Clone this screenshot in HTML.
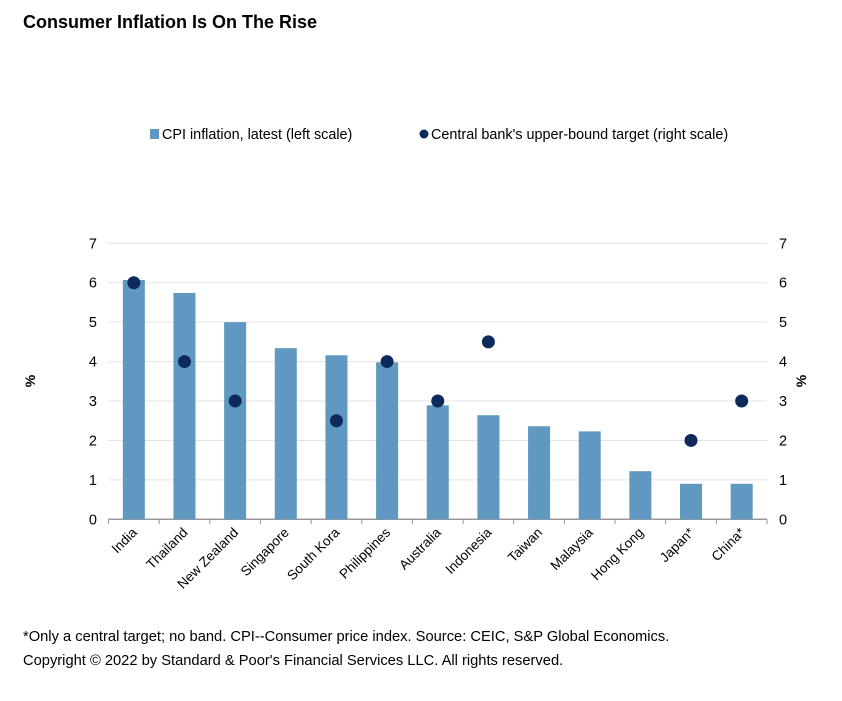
<!DOCTYPE html>
<html><head><meta charset="utf-8"><style>
body{margin:0;background:#fff;font-family:"Liberation Sans",Arial,sans-serif;}
svg text{font-family:"Liberation Sans",Arial,sans-serif;}
</style></head><body>
<svg id="c" width="842" height="696" viewBox="0 0 842 696">
<text x="23" y="28" font-size="18" font-weight="bold" fill="#000">Consumer Inflation Is On The Rise</text>
<g>
<rect x="150" y="129" width="9" height="10" fill="#5f98c0"/>
<text x="162" y="139" font-size="14.4" fill="#000">CPI inflation, latest (left scale)</text>
<circle cx="424" cy="134" r="4.5" fill="#0e2a5c"/>
<text x="431" y="139" font-size="14.4" fill="#000">Central bank's upper-bound target (right scale)</text>
</g>
<g id="plot"></g>
<text x="23" y="641" font-size="14.7" fill="#000">*Only a central target; no band. CPI--Consumer price index. Source: CEIC, S&amp;P Global Economics.</text>
<text x="23" y="665" font-size="14.7" fill="#000">Copyright © 2022 by Standard &amp; Poor's Financial Services LLC. All rights reserved.</text>
</svg>
<script>
const categories=["India","Thailand","New Zealand","Singapore","South Kora","Philippines","Australia","Indonesia","Taiwan","Malaysia","Hong Kong","Japan*","China*"];
const cpiValues=[6.07,5.74,5.0,4.34,4.16,3.98,2.89,2.64,2.36,2.23,1.22,0.9,0.9];
const targetValues=[6,4,3,null,2.5,4,3,4.5,null,null,null,2,3];
const yTicks=[0,1,2,3,4,5,6,7];
const NS="http://www.w3.org/2000/svg";
const g=document.getElementById('plot');
const x0=108.5,x1=767,yTop=243.3,yBot=519.3,yMax=7;
const step=(x1-x0)/categories.length;
const xs=i=>x0+step*(i+0.5);
const ys=v=>yBot-(v/yMax)*(yBot-yTop);
function mk(t,a){const e=document.createElementNS(NS,t);for(const k in a)e.setAttribute(k,a[k]);g.appendChild(e);return e;}
yTicks.forEach(v=>{
 if(v>0){const l=mk('line',{x1:x0,x2:x1,y1:ys(v),y2:ys(v),stroke:'#e3e3e3','stroke-width':1});
 
 }
 const t=mk('text',{x:97,y:ys(v)+5,'font-size':14.5,'text-anchor':'end',fill:'#000'});t.textContent=v;
 
 
 const t2=mk('text',{x:779,y:ys(v)+5,'font-size':14.5,'text-anchor':'start',fill:'#000'});t2.textContent=v;
 
 
});
const ax=mk('line',{x1:x0,x2:x1,y1:yBot,y2:yBot,stroke:'#999','stroke-width':1.5});


for(let i=0;i<=categories.length;i++){const tk=mk('line',{x1:x0+step*i,x2:x0+step*i,y1:yBot,y2:yBot+5,stroke:'#999'});
 
 }
categories.forEach((c,i)=>{
 const b=mk('rect',{x:xs(i)-11,y:ys(cpiValues[i]),width:22,height:yBot-ys(cpiValues[i]),fill:'#5f98c0'});
 
 
 const t=mk('text',{x:xs(i)+4,y:yBot+14,'font-size':13.5,'text-anchor':'end',fill:'#000',transform:`rotate(-45 ${xs(i)+4} ${yBot+14})`});
 t.textContent=c;
 
 
});
categories.forEach((c,i)=>{
 if(targetValues[i]==null)return;
 const d=mk('circle',{cx:xs(i),cy:ys(targetValues[i]),r:6.5,fill:'#0e2a5c'});
 
 
});
const l1=mk('text',{x:35,y:381,'font-size':14,'font-weight':'bold','text-anchor':'middle',transform:'rotate(-90 35 381)'});l1.textContent='%';


const l2=mk('text',{x:806,y:381,'font-size':14,'font-weight':'bold','text-anchor':'middle',transform:'rotate(-90 806 381)'});l2.textContent='%';


</script>
</body></html>
